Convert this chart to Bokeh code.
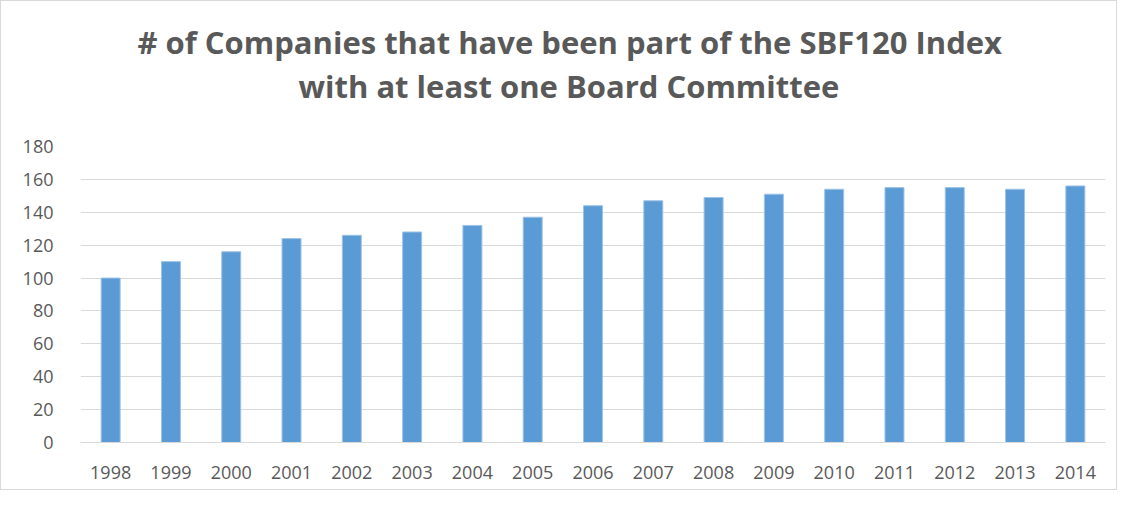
from bokeh.plotting import figure
from bokeh.models import Title, SingleIntervalTicker, FactorRange, Range1d
from bokeh.core.properties import value
from bokeh.embed import file_html
from bokeh.resources import INLINE

years = ["1998", "1999", "2000", "2001", "2002", "2003", "2004", "2005", "2006",
         "2007", "2008", "2009", "2010", "2011", "2012", "2013", "2014"]
companies = [100, 110, 116, 124, 126, 128, 132, 137, 144, 147, 149, 151, 154, 155, 155, 154, 156]
title_line1 = "# of Companies that have been part of the SBF120 Index"
title_line2 = "with at least one Board Committee"

FONT = "Open Sans"
GRAY = "#595959"

p = figure(x_range=FactorRange(*years), y_range=Range1d(0, 180),
           width=1117, height=490, output_backend="svg", toolbar_location=None,
           min_border_left=79, min_border_right=13, min_border_bottom=49, min_border_top=145)

# outermost: first title line
p.title.text = title_line1
p.title.align = "left"
p.title.offset = 57
p.title.text_font = FONT
p.title.text_font_size = "31px"
p.title.text_font_style = "bold"
p.title.text_color = GRAY
p.title.standoff = 0
# spacer between title and plot area (added first -> closest to the plot)
spacer = Title(text=" ", align="center", text_font=FONT, text_font_size="10px",
               text_color=GRAY, standoff=24)
p.add_layout(spacer, "above")
# second title line
t2 = Title(text=title_line2, align="left", offset=218, text_font=FONT, text_font_size="31px",
           text_font_style="bold", text_color=GRAY, standoff=0)
p.add_layout(t2, "above")

p.vbar(x=years, top=companies, width=0.315, fill_color="#5b9bd5", line_color="#9dc3e6", line_width=1)

p.yaxis.ticker = SingleIntervalTicker(interval=20)
p.ygrid.ticker = SingleIntervalTicker(interval=20)
p.ygrid.grid_line_color = "#d9d9d9"
p.ygrid.grid_line_width = 1
p.xgrid.grid_line_color = None

for ax in (p.xaxis, p.yaxis):
    ax.major_tick_line_color = None
    ax.minor_tick_line_color = None
    ax.major_label_text_font = FONT
    ax.major_label_text_font_size = "18px"
    ax.major_label_text_color = GRAY
p.yaxis.axis_line_color = None
p.xaxis.axis_line_color = "#d9d9d9"
p.xaxis.major_label_standoff = 17
p.yaxis.major_label_standoff = 21
p.outline_line_color = None
p.styles = {"border": "1px solid #d9d9d9"}

open("out.html", "w").write(file_html(p, INLINE))
